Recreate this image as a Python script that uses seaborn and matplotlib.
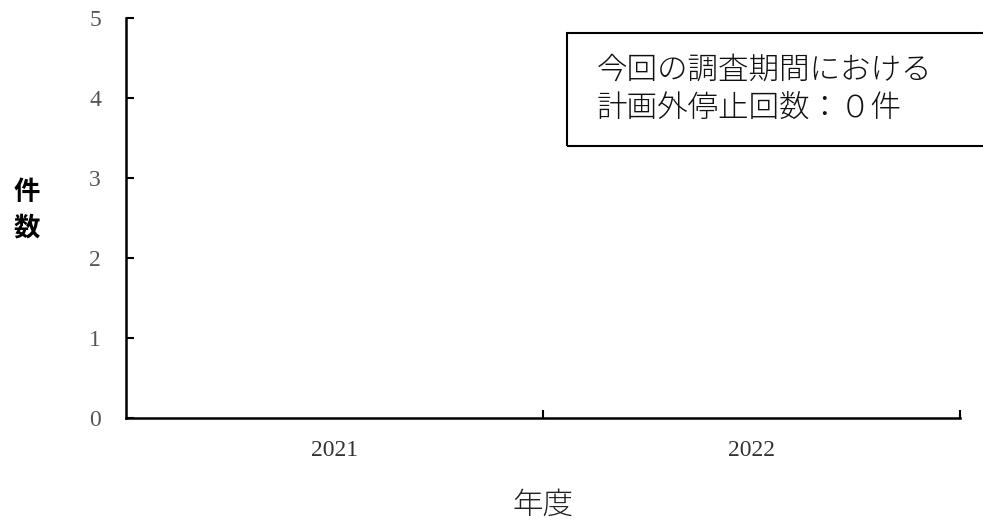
import matplotlib
matplotlib.use("Agg")
import matplotlib.pyplot as plt
import seaborn as sns
import pandas as pd
from matplotlib.patches import Rectangle

years = ["2021", "2022"]
counts = [0, 0]
yticks = [0, 1, 2, 3, 4, 5]
note = "今回の調査期間における\n計画外停止回数：０件"
ylabel = "件\n数"
xlabel = "年度"

sns.set_theme(style="white")
plt.rcParams['font.family'] = ['Noto Sans CJK JP', 'DejaVu Sans']

fig = plt.figure(figsize=(9.83, 5.26), dpi=100)
ax = fig.add_axes([126/983, 1-418/526, (960-126)/983, 400/526])

df = pd.DataFrame({"year": years, "count": counts})
sns.barplot(data=df, x="year", y="count", ax=ax, color="#4472c4", linewidth=0)

ax.set_xlim(-0.5, 1.5)
ax.set_ylim(0, 5)
ax.set_yticks(yticks)
ax.set_yticklabels([str(t) for t in yticks], family=['Liberation Serif'], fontsize=17, color='#555555')
ax.set_xticks([0, 1])
ax.set_xticklabels(years, family=['Liberation Serif'], fontsize=17, color='#333333')
ax.set_xticks([0.5, 1.5], minor=True)
ax.tick_params(axis='x', which='major', length=0, pad=16, bottom=True)
ax.tick_params(axis='x', which='minor', direction='in', length=6, width=1.5, color='black', bottom=True)
ax.tick_params(axis='y', which='major', direction='in', length=6, width=1.5, color='black', pad=18, left=True)

for s in ['top', 'right']:
    ax.spines[s].set_visible(False)
for s in ['left', 'bottom']:
    ax.spines[s].set_visible(True)
    ax.spines[s].set_color('black')
    ax.spines[s].set_linewidth(1.8)

ax.set_xlabel("")
ax.set_ylabel("")

fig.text(27/983, 1-210/526, ylabel, ha='center', va='center', fontsize=19,
         fontweight='bold', linespacing=1.4, color='black')
fig.text(543/983, 1-505/526, xlabel, ha='center', va='center', fontsize=22,
         fontweight='light', color='#222222')

rect = Rectangle((567/983, 1-146/526), (990-567)/983, (146-33)/526,
                 transform=fig.transFigure, fill=False, edgecolor='black', linewidth=1.5)
fig.patches.append(rect)
fig.text(597/983, 1-89/526, note, ha='left', va='center', fontsize=22,
         fontweight='light', linespacing=1.3, color='#111111')

fig.savefig("out.png", dpi=100)
